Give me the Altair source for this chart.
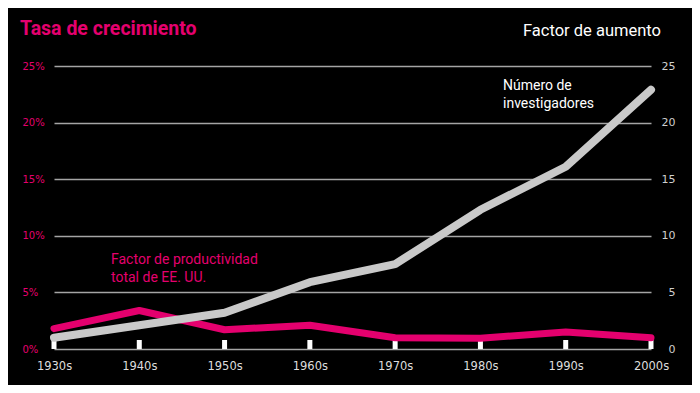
import altair as alt
import pandas as pd

decades = ["1930s", "1940s", "1950s", "1960s", "1970s", "1980s", "1990s", "2000s"]
tfp_growth = [1.8, 3.4, 1.7, 2.1, 1.0, 0.95, 1.5, 1.0]          # % growth (left axis)
researchers = [1.0, 2.1, 3.2, 5.9, 7.5, 12.3, 16.1, 22.9]        # factor (right axis)
y_ticks = [0, 5, 10, 15, 20, 25]

df = pd.DataFrame({"decade": decades, "tfp": tfp_growth, "inv": researchers})

W, H = 597, 283
PINK = "#e4006e"
GRAY = "#c9c9c9"
FONT = "Roboto"
AXFONT = "DejaVu Sans"

x_enc = alt.X(
    "decade:N", sort=decades,
    scale=alt.Scale(type="point", padding=0),
    axis=alt.Axis(title=None, labelAngle=0, domain=False, ticks=False, tickSize=0,
                  labelPadding=11, labelColor="#dddddd", labelFont=AXFONT,
                  labelFontSize=11.5, grid=False),
)

base = alt.Chart(df)

tick_marks = base.mark_rule(color="white", strokeWidth=5, strokeCap="butt").encode(
    x=x_enc, y=alt.value(H), y2=alt.value(H - 9)
)

pink_line = base.mark_line(color=PINK, strokeWidth=7, strokeCap="round", strokeJoin="round").encode(
    x=x_enc,
    y=alt.Y("tfp:Q", scale=alt.Scale(domain=[0, 25], nice=False),
            axis=alt.Axis(title=None, orient="left", values=y_ticks, labelExpr="datum.value + '%'",
                          labelAlign="left", labelPadding=32, tickSize=0, ticks=False, domain=False,
                          labelColor=PINK, labelFont=AXFONT, labelFontSize=10,
                          grid=True, gridColor="#a5a5a5", gridWidth=1.3)),
)

gray_line = base.mark_line(color=GRAY, strokeWidth=8, strokeCap="round", strokeJoin="round").encode(
    x=x_enc,
    y=alt.Y("inv:Q", scale=alt.Scale(domain=[0, 25], nice=False),
            axis=alt.Axis(title=None, orient="right", values=y_ticks,
                          labelAlign="right", labelPadding=24, tickSize=0, ticks=False, domain=False,
                          labelColor="#cfcfcf", labelFont=AXFONT, labelFontSize=11, grid=False)),
)

def label(lines, xpx, ypx, color, size, weight="normal"):
    return alt.Chart(pd.DataFrame({"k": [0]})).mark_text(
        text=lines, align="left", baseline="alphabetic", color=color,
        font=FONT, fontSize=size, fontWeight=weight, lineHeight=size + 4,
    ).encode(x=alt.value(xpx), y=alt.value(ypx))

title_left = label("Tasa de crecimiento", -34, -31, PINK, 19.5, "bold")
title_right = label("Factor de aumento", 469, -30, "white", 16.5)
tfp_label = label(["Factor de productividad", "total de EE. UU."], 57, 198, PINK, 14)
inv_label = label(["Número de", "investigadores"], 449, 24, "white", 14)

chart = alt.layer(
    tick_marks, pink_line, gray_line, title_left, title_right, tfp_label, inv_label
).resolve_scale(y="independent").properties(
    width=W, height=H,
    autosize=alt.AutoSizeParams(type="none"),
    padding={"left": 46, "top": 58, "right": 41, "bottom": 36},
    background="black",
).configure_view(stroke=None)

chart.save("out.html", embed_options={"renderer": "svg", "actions": False})
